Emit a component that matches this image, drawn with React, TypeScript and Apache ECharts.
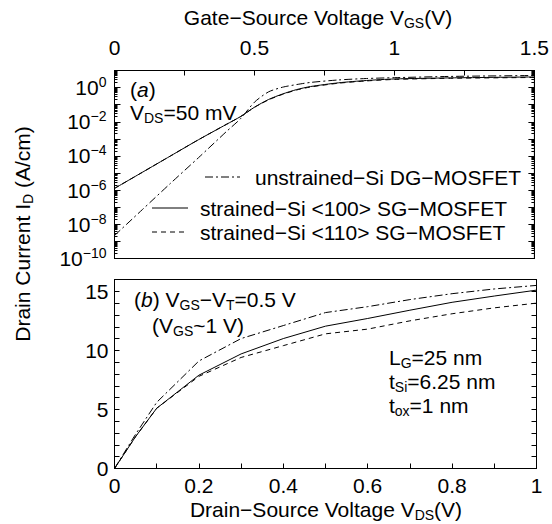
import React, { useEffect, useRef } from 'react';
import * as echarts from 'echarts';

// ---- Panel (a): transfer characteristics, VDS = 50 mV ----
const gateVoltage = [0, 0.1, 0.2, 0.3, 0.4, 0.45, 0.5, 0.55, 0.6, 0.65, 0.7, 0.8, 0.9, 1.0, 1.2, 1.5];
const currentUnstrainedDG = [2.2e-9, 7.4e-8, 2.5e-6, 7.9e-5, 2.7e-3, 1.5e-2, 1.4e-1, 5.6e-1, 1.05, 1.5, 2.0, 2.8, 3.4, 3.8, 4.5, 5.1];
const currentStrained100 = [1.26e-6, 1.12e-5, 1.0e-4, 8.9e-4, 7.1e-3, 2.0e-2, 7.1e-2, 2.0e-1, 4.2e-1, 7.6e-1, 1.15, 1.9, 2.6, 3.2, 3.7, 4.2];
const currentStrained110 = [1.26e-6, 1.12e-5, 1.0e-4, 8.9e-4, 7.1e-3, 2.0e-2, 7.0e-2, 1.9e-1, 4.0e-1, 7.2e-1, 1.08, 1.8, 2.45, 3.0, 3.5, 3.9];

// ---- Panel (b): output characteristics, VGS - VT = 0.5 V ----
const drainVoltage = [0, 0.05, 0.1, 0.2, 0.3, 0.4, 0.5, 0.6, 0.7, 0.8, 0.9, 1.0];
const idUnstrainedDG = [0, 2.9, 5.6, 9.1, 11.0, 12.1, 13.2, 13.7, 14.3, 14.8, 15.2, 15.5];
const idStrained100 = [0, 2.7, 5.1, 7.9, 9.7, 11.0, 12.05, 12.7, 13.4, 14.07, 14.6, 15.1];
const idStrained110 = [0, 2.7, 5.1, 7.8, 9.4, 10.4, 11.4, 11.8, 12.5, 13.1, 13.6, 14.0];

// ---- Axis ticks ----
const logLabelValues = [1e-10, 1e-8, 1e-6, 1e-4, 1e-2, 1];
const logMajorExponents = [-10, -9, -8, -7, -6, -5, -4, -3, -2, -1, 0, 1];
const logMajorTicks = logMajorExponents.map((e) => Math.pow(10, e));
const logMinorTicks: number[] = [];
logMajorExponents.slice(0, -1).forEach((e) => {
  for (let m = 2; m <= 9; m++) logMinorTicks.push(m * Math.pow(10, e));
});

const F = '"Liberation Sans", Arial, Helvetica, sans-serif';
const BLACK = '#000';

const R: any = {
  n: { fontSize: 21, fontFamily: F, lineHeight: 25, fill: BLACK, color: BLACK },
  i: { fontSize: 21, fontFamily: F, lineHeight: 25, fontStyle: 'italic', fill: BLACK, color: BLACK },
  sub: { fontSize: 14, fontFamily: F, lineHeight: 12, verticalAlign: 'bottom', fill: BLACK, color: BLACK },
  sup: { fontSize: 14, fontFamily: F, lineHeight: 12, verticalAlign: 'top', fill: BLACK, color: BLACK },
};

const zip = (xs: number[], ys: number[]) => xs.map((x, k) => [x, ys[k]]);

const DASHDOT = [8, 3, 2, 3];
const DASHED = [5, 4];

function label(x: number, y: number, text: string, align = 'left', rotation = 0) {
  return {
    type: 'text',
    x,
    y,
    rotation,
    silent: true,
    style: { text, rich: R, align, verticalAlign: 'middle', fill: BLACK, font: `21px ${F}` },
  };
}

function legendLine(x1: number, x2: number, y: number, dash: number[] | null) {
  return {
    type: 'line',
    silent: true,
    shape: { x1, y1: y, x2, y2: y },
    style: { stroke: BLACK, lineWidth: 1, lineDash: dash || undefined },
  };
}

const tickStyle = (length: number, customValues?: number[]) => ({
  show: true,
  inside: true,
  length,
  lineStyle: { color: BLACK, width: 1 },
  ...(customValues ? { customValues } : {}),
});

const lineOn = { show: true, lineStyle: { color: BLACK, width: 1 } };

const labelBase = { color: BLACK, fontSize: 21, fontFamily: F };

function near(v: number, step: number) {
  return Math.abs(v / step - Math.round(v / step)) < 1e-6;
}

export default function App() {
  const ref = useRef<HTMLDivElement>(null);

  useEffect(() => {
    document.body.style.margin = '0';
    const chart = echarts.init(ref.current!, null, { renderer: 'svg' });
    const gridA = { left: 114.5, top: 70.5, width: 422, height: 188 };
    const gridB = { left: 114.5, top: 279.5, width: 422, height: 189 };

    const logAxis = (position: string, ticks: number[], len: number, extra: any = {}) => ({
      gridIndex: 0,
      type: 'log',
      logBase: 10,
      position,
      min: 1e-10,
      max: 10,
      axisLine: lineOn,
      splitLine: { show: false },
      axisTick: tickStyle(len, ticks),
      axisLabel: { show: false },
      ...extra,
    });

    const option: any = {
      animation: false,
      backgroundColor: '#fff',
      grid: [
        { ...gridA, show: true, borderColor: BLACK, borderWidth: 1, backgroundColor: 'transparent' },
        { ...gridB, show: true, borderColor: BLACK, borderWidth: 1, backgroundColor: 'transparent' },
      ],
      xAxis: [
        {
          gridIndex: 0,
          type: 'value',
          position: 'top',
          min: 0,
          max: 1.5,
          interval: 0.25,
          axisLine: lineOn,
          axisTick: tickStyle(5),
          splitLine: { show: false },
          axisLabel: {
            ...labelBase,
            margin: 13,
            formatter: (v: number) => (near(v, 0.5) ? String(Number(v.toFixed(2))) : ''),
          },
        },
        {
          gridIndex: 1,
          type: 'value',
          position: 'bottom',
          min: 0,
          max: 1,
          interval: 0.1,
          axisLine: lineOn,
          axisTick: tickStyle(5),
          splitLine: { show: false },
          axisLabel: {
            ...labelBase,
            margin: 6,
            formatter: (v: number) => (near(v, 0.2) ? String(Number(v.toFixed(1))) : ''),
          },
        },
      ],
      yAxis: [
        logAxis('left', logMajorTicks, 6, {
          axisLabel: {
            ...labelBase,
            margin: 8,
            customValues: logLabelValues,
            rich: R,
            formatter: (v: number) => {
              const e = Math.round(Math.log10(v));
              return `{n|10}{sup|${e < 0 ? '−' + -e : e}}`;
            },
          },
        }),
        logAxis('left', logMinorTicks, 3),
        logAxis('right', logMajorTicks, 6),
        logAxis('right', logMinorTicks, 3),
        {
          gridIndex: 1,
          type: 'value',
          position: 'left',
          min: 0,
          max: 16,
          interval: 1,
          axisLine: lineOn,
          splitLine: { show: false },
          axisTick: tickStyle(5),
          axisLabel: {
            ...labelBase,
            margin: 6,
            formatter: (v: number) => (near(v, 5) && v < 16 ? String(Math.round(v)) : ''),
          },
        },
        {
          gridIndex: 1,
          type: 'value',
          position: 'right',
          min: 0,
          max: 16,
          interval: 1,
          axisLine: lineOn,
          splitLine: { show: false },
          axisTick: tickStyle(5),
          axisLabel: { show: false },
        },
      ],
      series: [
        {
          name: 'strained−Si <110> SG−MOSFET (a)',
          type: 'line', xAxisIndex: 0, yAxisIndex: 0, silent: true,
          data: zip(gateVoltage, currentStrained110), showSymbol: false, symbol: 'none', smooth: 0.25,
          lineStyle: { color: BLACK, width: 1, type: DASHED },
        },
        {
          name: 'strained−Si <100> SG−MOSFET (a)',
          type: 'line', xAxisIndex: 0, yAxisIndex: 0, silent: true,
          data: zip(gateVoltage, currentStrained100), showSymbol: false, symbol: 'none', smooth: 0.25,
          lineStyle: { color: BLACK, width: 1, type: 'solid' },
        },
        {
          name: 'unstrained−Si DG−MOSFET (a)',
          type: 'line', xAxisIndex: 0, yAxisIndex: 0, silent: true,
          data: zip(gateVoltage, currentUnstrainedDG), showSymbol: false, symbol: 'none', smooth: 0.25,
          lineStyle: { color: BLACK, width: 1, type: DASHDOT },
        },
        {
          name: 'strained−Si <110> SG−MOSFET (b)',
          type: 'line', xAxisIndex: 1, yAxisIndex: 4, silent: true,
          data: zip(drainVoltage, idStrained110), showSymbol: false, symbol: 'none',
          lineStyle: { color: BLACK, width: 1, type: DASHED },
        },
        {
          name: 'strained−Si <100> SG−MOSFET (b)',
          type: 'line', xAxisIndex: 1, yAxisIndex: 4, silent: true,
          data: zip(drainVoltage, idStrained100), showSymbol: false, symbol: 'none',
          lineStyle: { color: BLACK, width: 1, type: 'solid' },
        },
        {
          name: 'unstrained−Si DG−MOSFET (b)',
          type: 'line', xAxisIndex: 1, yAxisIndex: 4, silent: true,
          data: zip(drainVoltage, idUnstrainedDG), showSymbol: false, symbol: 'none',
          lineStyle: { color: BLACK, width: 1, type: DASHDOT },
        },
      ],
      graphic: [
        label(318, 17, '{n|Gate−Source Voltage V}{sub|GS}{n|(V)}', 'center'),
        label(326, 509, '{n|Drain−Source Voltage V}{sub|DS}{n|(V)}', 'center'),
        label(22, 234, '{n|Drain Current I}{sub|D}{n| (A/cm)}', 'center', Math.PI / 2),
        label(130, 89, '{n|(}{i|a}{n|)}'),
        label(130, 112, '{n|V}{sub|DS}{n|=50 mV}'),
        legendLine(205, 240, 177, DASHDOT),
        label(255, 177, '{n|unstrained−Si DG−MOSFET}'),
        legendLine(152, 188, 208, null),
        label(200, 208, '{n|strained−Si <100> SG−MOSFET}'),
        legendLine(152, 188, 232, DASHED),
        label(200, 232, '{n|strained−Si <110> SG−MOSFET}'),
        label(134, 299, '{n|(}{i|b}{n|) V}{sub|GS}{n|−V}{sub|T}{n|=0.5 V}'),
        label(152, 325, '{n|(V}{sub|GS}{n|~1 V)}'),
        label(389, 357, '{n|L}{sub|G}{n|=25 nm}'),
        label(389, 381, '{n|t}{sub|Si}{n|=6.25 nm}'),
        label(389, 405, '{n|t}{sub|ox}{n|=1 nm}'),
      ],
    };

    chart.setOption(option);
    return () => chart.dispose();
  }, []);

  return (
    <div
      ref={ref}
      style={{ position: 'fixed', left: 0, top: 0, width: 552, height: 524, background: '#fff' }}
    />
  );
}
